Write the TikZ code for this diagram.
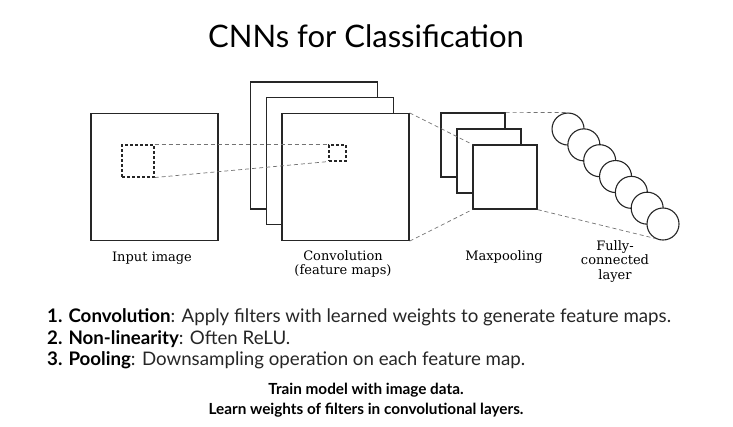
\documentclass[tikz,border=0pt]{standalone}
\usepackage{fontspec}
\setmainfont{Lato}
\newfontfamily\labelfont{DejaVu Serif}
\usetikzlibrary{positioning}

\begin{document}
\begin{tikzpicture}[x=1pt,y=-1pt]
\tikzstyle{map}=[rectangle, draw=black!85, line width=1.3pt, fill=white, inner sep=0pt]
\tikzstyle{bigmap}=[map, minimum size=127pt]
\tikzstyle{poolmap}=[map, minimum size=64pt]
\tikzstyle{neuron}=[circle, draw=black!85, line width=1.1pt, fill=white, minimum size=32pt, inner sep=0pt]
\tikzstyle{patch}=[rectangle, draw=black!85, line width=1.1pt, dash pattern=on 3pt off 2pt, inner sep=0pt]
\tikzstyle{guide}=[draw=black!55, line width=0.7pt, dash pattern=on 4pt off 3pt]
\tikzstyle{lbl}=[font=\labelfont\fontsize{13}{14.5}\selectfont, align=center, anchor=north, inner sep=0pt]
\tikzstyle{item}=[font=\fontsize{18.7}{21}\selectfont, anchor=base west, inner sep=0pt, text=black!85]
\tikzstyle{note}=[font=\bfseries\fontsize{15.3}{18}\selectfont, anchor=base, inner sep=0pt]
\useasboundingbox (0,0) rectangle (733,426);

	\node[anchor=base, inner sep=0pt, font=\fontsize{31}{36}\selectfont] (title) at (366,47) {CNNs for Classification};

	% layers
	\node[bigmap] (input) at (154.5,177) {};
	\node[bigmap] (conv_1) at (314,145.5) {};
	\node[bigmap] (conv_2) at (330,161) {};
	\node[bigmap] (conv_3) at (345.5,177) {};
	\node[poolmap] (pool_1) at (473,145) {};
	\node[poolmap] (pool_2) at (489,161) {};
	\node[poolmap] (pool_3) at (505,177) {};
	\foreach \i in {1,...,7}
		\node[neuron] (n_\i) at ({552.2+15.83*\i},{113.2+15.83*\i}) {};

	\node[patch, minimum width=32pt, minimum height=32pt] (p_in) at (138,161) {};
	\node[patch, minimum width=17pt, minimum height=16pt] (p_conv) at (337.5,153) {};

	\path
		(p_in.north east) edge [guide] (p_conv.north west)
		(p_in.south east) edge [guide] (p_conv.south west)
		(conv_3.north east) edge [guide] (pool_3.north west)
		(conv_3.south east) edge [guide] (pool_3.south west)
		(pool_1.north east) edge [guide] (n_1.north)
		(pool_3.south east) edge [guide] (n_7.240);

	% labels
	\node[lbl] (l_input) at (152,252) {Input image};
	\node[lbl] (l_conv) at (343,250) {Convolution\\(feature maps)};
	\node[lbl] (l_pool) at (504,250) {Maxpooling};
	\node[lbl] (l_fc) at (615,240) {Fully-\\connected\\layer};

	% text
	\node[item] (step_1) at (47,322) {\textcolor{black}{\textbf{1. Convolution}}: Apply filters with learned weights to generate feature maps.};
	\node[item] (step_2) at (47,344) {\textcolor{black}{\textbf{2. Non-linearity}}: Often ReLU.};
	\node[item] (step_3) at (47,365) {\textcolor{black}{\textbf{3. Pooling}}: Downsampling operation on each feature map.};
	\node[note] (note_1) at (366,394) {Train model with image data.};
	\node[note] (note_2) at (366,414) {Learn weights of filters in convolutional layers.};
\end{tikzpicture}
\end{document}
